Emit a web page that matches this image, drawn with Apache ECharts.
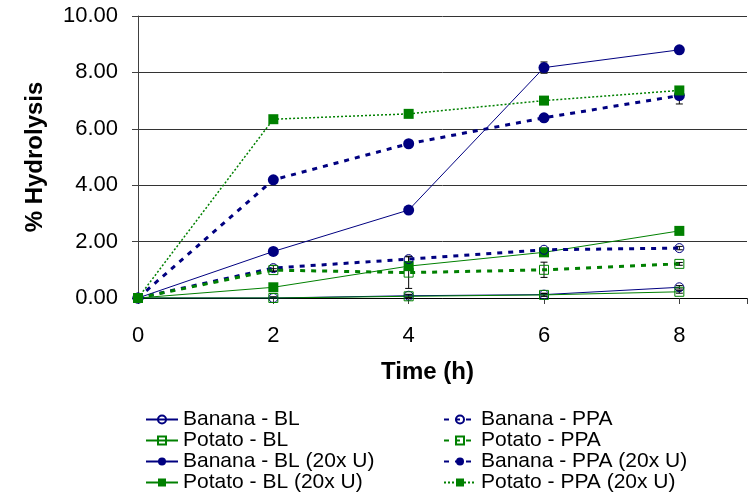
<!DOCTYPE html>
<html>
<head>
<meta charset="utf-8">
<script src="https://cdn.jsdelivr.net/npm/echarts@6/dist/echarts.min.js"></script>
<style>
html,body{margin:0;padding:0;background:#fff;}
#chart{width:750px;height:497px;}
</style>
</head>
<body>
<div id="chart"></div>
<script>
// ---- data ----
const timeH = [0, 2, 4, 6, 8];
const xTickLabels = ['0', '2', '4', '6', '8'];
const yTickLabels = ['0.00', '2.00', '4.00', '6.00', '8.00', '10.00'];

const bananaBL    = [0, 0.00, 0.08, 0.12, 0.38];
const potatoBL    = [0, 0.00, 0.06, 0.11, 0.22];
const bananaBL20  = [0, 1.65, 3.12, 8.17, 8.80];
const potatoBL20  = [0, 0.38, 1.13, 1.62, 2.38];
const bananaPPA   = [0, 1.06, 1.38, 1.71, 1.77];
const potatoPPA   = [0, 0.99, 0.90, 1.00, 1.21];
const bananaPPA20 = [0, 4.19, 5.47, 6.39, 7.18];
const potatoPPA20 = [0, 6.34, 6.53, 7.00, 7.36];

// error bar half-widths (± values)
const bananaBLErr    = [0, 0.04, 0.05, 0.05, 0.06];
const potatoBLErr    = [0, 0.03, 0.05, 0.05, 0.05];
const bananaBL20Err  = [0, 0.05, 0.06, 0.20, 0.06];
const potatoBL20Err  = [0, 0.04, 0.05, 0.05, 0.05];
const bananaPPAErr   = [0, 0.10, 0.10, 0.05, 0.06];
const potatoPPAErr   = [0, 0.05, 0.56, 0.27, 0.05];
const bananaPPA20Err = [0, 0.05, 0.05, 0.05, 0.30];
const potatoPPA20Err = [0, 0.04, 0.05, 0.05, 0.05];

const seriesNames = [
  'Banana - BL', 'Potato - BL', 'Banana - BL (20x U)', 'Potato - BL (20x U)',
  'Banana - PPA', 'Potato - PPA', 'Banana - PPA (20x U)', 'Potato - PPA (20x U)'
];

// ---- styling ----
const NAVY = '#000080';
const GREEN = '#008000';
const FONT = "'Liberation Sans', Arial, sans-serif";

const pairs = (vals) => timeH.map((t, i) => [t, vals[i]]);

function lineSeries(name, vals, color, symbol, filled, lineWidth, dash, size) {
  return {
    name: name,
    type: 'line',
    data: pairs(vals),
    symbol: symbol,
    symbolSize: size,
    showSymbol: true,
    animation: false,
    lineStyle: { color: color, width: lineWidth, type: dash },
    itemStyle: filled
      ? { color: color, borderColor: color, borderWidth: 0 }
      : { color: 'rgba(255,255,255,0)', borderColor: color, borderWidth: 1 },
    emphasis: { disabled: true },
    z: 3
  };
}

const allVals = [bananaBL, potatoBL, bananaBL20, potatoBL20, bananaPPA, potatoPPA, bananaPPA20, potatoPPA20];
const allErrs = [bananaBLErr, potatoBLErr, bananaBL20Err, potatoBL20Err, bananaPPAErr, potatoPPAErr, bananaPPA20Err, potatoPPA20Err];
const errData = [];
allVals.forEach((vals, s) => {
  vals.forEach((v, i) => {
    const e = allErrs[s][i];
    if (e > 0) errData.push([timeH[i], Math.max(0, v - e), v + e]);
  });
});

function renderErr(params, api) {
  const x = api.value(0);
  const pLo = api.coord([x, api.value(1)]);
  const pHi = api.coord([x, api.value(2)]);
  const w = 3.5;
  const st = { stroke: '#000', lineWidth: 1 };
  return {
    type: 'group',
    children: [
      { type: 'line', shape: { x1: pHi[0], y1: pHi[1], x2: pLo[0], y2: pLo[1] }, style: st },
      { type: 'line', shape: { x1: pHi[0] - w, y1: pHi[1], x2: pHi[0] + w, y2: pHi[1] }, style: st },
      { type: 'line', shape: { x1: pLo[0] - w, y1: pLo[1], x2: pLo[0] + w, y2: pLo[1] }, style: st }
    ]
  };
}

const chart = echarts.init(document.getElementById('chart'), null, { renderer: 'canvas' });

const legendCommon = {
  orient: 'vertical',
  itemWidth: 32,
  itemHeight: 10,
  itemGap: 0,
  selectedMode: false,
  textStyle: { fontFamily: FONT, fontSize: 21, color: '#000', lineHeight: 20 },
  padding: 0
};

chart.setOption({
  backgroundColor: '#fff',
  animation: false,
  textStyle: { fontFamily: FONT },
  grid: { left: 138, top: 16, width: 615, height: 282, containLabel: false },
  xAxis: {
    type: 'value',
    min: 0,
    max: 9,
    interval: 2,
    name: 'Time (h)',
    nameLocation: 'middle',
    nameGap: 62,
    nameTextStyle: { fontFamily: FONT, fontSize: 24, fontWeight: 'bold', color: '#000', padding: [0, 30, 0, 0] },
    axisLine: { show: true, onZero: false, lineStyle: { color: '#000', width: 1 } },
    axisTick: { show: true, length: 6, lineStyle: { color: '#404040' } },
    axisLabel: {
      fontFamily: FONT, fontSize: 22, color: '#000', margin: 27,
      formatter: (v) => { const i = timeH.indexOf(v); return i >= 0 ? xTickLabels[i] : ''; }
    },
    splitLine: { show: false }
  },
  yAxis: {
    type: 'value',
    min: 0,
    max: 10,
    interval: 2,
    name: '% Hydrolysis',
    nameLocation: 'middle',
    nameRotate: 90,
    nameGap: 91,
    nameTextStyle: { fontFamily: FONT, fontSize: 24, fontWeight: 'bold', color: '#000' },
    axisLine: { show: true, lineStyle: { color: '#404040', width: 1 } },
    axisTick: { show: true, length: 6, lineStyle: { color: '#404040' } },
    axisLabel: {
      fontFamily: FONT, fontSize: 22, color: '#000', margin: 20,
      formatter: (v) => yTickLabels[Math.round(v / 2)]
    },
    splitLine: { show: true, lineStyle: { color: '#333', width: 1 } }
  },
  legend: [
    Object.assign({}, legendCommon, { left: 145, top: 409, data: seriesNames.slice(0, 4) }),
    Object.assign({}, legendCommon, { left: 443, top: 409, data: seriesNames.slice(4, 8) })
  ],
  series: [
    {
      name: 'errorBars',
      type: 'custom',
      data: errData,
      renderItem: renderErr,
      animation: false,
      silent: true,
      encode: { x: 0, y: [1, 2] },
      z: 2
    },
    lineSeries(seriesNames[0], bananaBL, NAVY, 'circle', false, 1, 'solid', 9),
    lineSeries(seriesNames[1], potatoBL, GREEN, 'rect', false, 1, 'solid', 9),
    lineSeries(seriesNames[2], bananaBL20, NAVY, 'circle', true, 1, 'solid', 11),
    lineSeries(seriesNames[3], potatoBL20, GREEN, 'rect', true, 1, 'solid', 10),
    lineSeries(seriesNames[4], bananaPPA, NAVY, 'circle', false, 3, [5, 6], 9),
    lineSeries(seriesNames[5], potatoPPA, GREEN, 'rect', false, 3, [5, 6], 9),
    lineSeries(seriesNames[6], bananaPPA20, NAVY, 'circle', true, 3, [5, 6], 11),
    lineSeries(seriesNames[7], potatoPPA20, GREEN, 'rect', true, 1.5, [2, 2], 10)
  ]
});
</script>
</body>
</html>
